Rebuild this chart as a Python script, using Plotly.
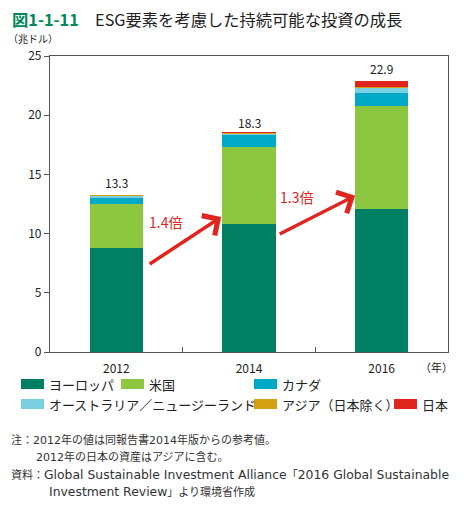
import plotly.graph_objects as go

# ---- data ----
years = ["2012", "2014", "2016"]
europe = [8.76, 10.78, 12.04]
usa = [3.74, 6.57, 8.72]
canada = [0.59, 0.95, 1.09]
aus_nz = [0.13, 0.18, 0.52]
asia = [0.04, 0.05, 0.05]
japan = [0.0, 0.01, 0.47]
totals = [13.3, 18.3, 22.9]
series_names = ["ヨーロッパ", "米国", "カナダ", "オーストラリア／ニュージーランド", "アジア（日本除く）", "日本"]
series_colors = ["#007F62", "#8DC63F", "#00A9C5", "#7ACFE0", "#D49F12", "#E0251F"]
growth_labels = ["1.4倍", "1.3倍"]

# page body has an 8px margin; work in target-pixel coordinates
OFF = 8
W, H = 466 - 2 * OFF, 510 - 2 * OFF
PLOT_L, PLOT_R, PLOT_T, PLOT_B = 50, 448, 56, 352  # target pixels
L, R = PLOT_L - OFF, W - (PLOT_R - OFF)
T, B = PLOT_T - OFF, H - (PLOT_B - OFF)
PW, PH = PLOT_R - PLOT_L, PLOT_B - PLOT_T

def px(x):
    return (x - PLOT_L) / PW

def py(y):
    return (PLOT_B - y) / PH

FONT = "Noto Sans CJK JP"
NOTE_FONT = "DejaVu Sans, Noto Sans CJK JP"

def latin(s):
    return f"<span style='font-size:12.4px'>{s}</span>"

fig = go.Figure()
for name, vals, col in zip(series_names, [europe, usa, canada, aus_nz, asia, japan], series_colors):
    fig.add_trace(go.Bar(x=years, y=vals, name=name, marker=dict(color=col, line=dict(width=0)),
                         width=0.4, showlegend=False))

# totals above bars (category index positions)
for i, t in enumerate(totals):
    fig.add_annotation(x=i, y=t, text=f"{t}", showarrow=False, yanchor="bottom", yshift=2,
                       font=dict(size=12, color="#222"))

# growth arrows
arrows = [((0.24, 7.35), (0.79, 11.4), (0.37, 11.0)),
          ((1.22, 9.9), (1.80, 13.2), (1.36, 13.1))]
for (tail, head, lab), txt in zip(arrows, growth_labels):
    fig.add_annotation(x=head[0], y=head[1], ax=tail[0], ay=tail[1], xref="x", yref="y",
                       axref="x", ayref="y", text="", showarrow=True, arrowhead=4,
                       arrowsize=1.3, arrowwidth=3.5, arrowcolor="#E0251F")
    fig.add_annotation(x=lab[0], y=lab[1], text=txt, showarrow=False,
                       font=dict(size=14, color="#E0251F"))

# axis unit labels
fig.add_annotation(xref="paper", yref="paper", x=px(6), y=py(38), text="（兆ドル）", showarrow=False,
                   xanchor="left", yanchor="middle", font=dict(size=10, color="#222"))
fig.add_annotation(xref="paper", yref="paper", x=px(418), y=py(367), text="（年）", showarrow=False,
                   xanchor="left", yanchor="middle", font=dict(size=11, color="#222"))

# custom legend
legend_pos = [(21, 384), (121, 384), (254, 384), (21, 404), (254, 404), (394, 404)]
for (lx, ly), name, col in zip(legend_pos, series_names, series_colors):
    fig.add_shape(type="rect", xref="paper", yref="paper", x0=px(lx), x1=px(lx + 23),
                  y0=py(ly + 5), y1=py(ly - 5), fillcolor=col, line=dict(width=0))
    fig.add_annotation(xref="paper", yref="paper", x=px(lx + 26), y=py(ly), text=name,
                       showarrow=False, xanchor="left", yanchor="middle",
                       font=dict(size=13, color="#222"))

# notes
notes = [(9, 440, "注：2012年の値は同報告書2014年版からの参考値。"),
         (34, 457, "2012年の日本の資産はアジアに含む。"),
         (9, 474, "資料：" + latin("Global Sustainable Investment Alliance") + "「"
          + latin("2016 Global Sustainable")),
         (47, 491, latin("Investment Review") + "」より環境省作成")]
for nx, ny, txt in notes:
    fig.add_annotation(xref="paper", yref="paper", x=px(nx), y=py(ny), text=txt, showarrow=False,
                       xanchor="left", yanchor="middle",
                       font=dict(size=11, color="#333", family=NOTE_FONT))

fig.update_layout(
    width=W, height=H, barmode="stack",
    margin=dict(l=L, r=R, t=T, b=B),
    plot_bgcolor="white", paper_bgcolor="white",
    font=dict(family=FONT, color="#222"),
    title=dict(text="<span style='color:#00875A'><b>図1-1-11</b></span>　ESG要素を考慮した持続可能な投資の成長",
               x=(12 - OFF) / W, xanchor="left", y=1 - (20 - OFF) / H, yanchor="middle",
               yref="container", font=dict(size=16.3, color="#222", family=FONT)),
)
fig.update_xaxes(type="category", showline=True, linecolor="#555", linewidth=1.2, mirror=True,
                 ticks="inside", tickson="boundaries", ticklen=5, tickcolor="#555",
                 ticklabelstandoff=5, tickfont=dict(size=12, color="#222"), showgrid=False)
fig.update_yaxes(range=[0, 25], dtick=5, showline=True, linecolor="#555", linewidth=1.2, mirror=True,
                 ticks="outside", ticklen=5, tickcolor="#555", tickfont=dict(size=12, color="#222"),
                 showgrid=False, zeroline=False)

fig.write_html("out.html")
